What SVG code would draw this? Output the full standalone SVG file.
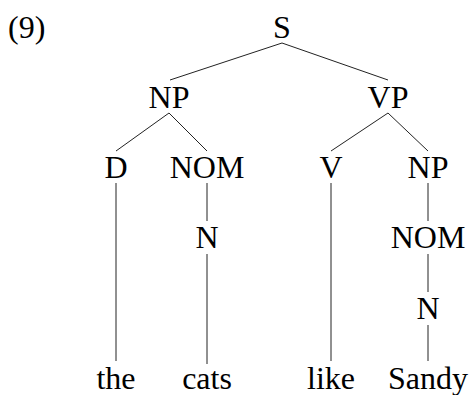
<svg xmlns="http://www.w3.org/2000/svg" width="470" height="395" viewBox="0 0 470 395">
<style>
text{font-family:'Liberation Serif','Times New Roman',serif;font-size:32px;fill:#000;text-anchor:middle}
.c line{stroke:#222;stroke-width:1}
</style>
<rect width="470" height="395" fill="#fff"/>
<text x="8" y="38" style="text-anchor:start">(9)</text>
<g class="c" id="connectors">
<line x1="282" y1="43" x2="170" y2="80"/>
<line x1="282" y1="43" x2="388" y2="80"/>
<line x1="169" y1="113" x2="116" y2="151"/>
<line x1="169" y1="113" x2="207" y2="151"/>
<line x1="388" y1="113" x2="331" y2="151"/>
<line x1="388" y1="113" x2="428" y2="151"/>
<line x1="116" y1="183" x2="116" y2="361"/>
<line x1="207" y1="183" x2="207" y2="221"/>
<line x1="207" y1="254" x2="207" y2="364"/>
<line x1="331" y1="183" x2="331" y2="361"/>
<line x1="428" y1="183" x2="428" y2="221"/>
<line x1="428" y1="254" x2="428" y2="292"/>
<line x1="428" y1="325" x2="428" y2="361"/>
</g>
<g id="S"><text x="282" y="38">S</text></g>
<g id="NP1"><text x="169" y="108">NP</text></g>
<g id="VP"><text x="388" y="108">VP</text></g>
<g id="D"><text x="116" y="178">D</text></g>
<g id="NOM1"><text x="207" y="178">NOM</text></g>
<g id="V"><text x="331" y="178">V</text></g>
<g id="NP2"><text x="428" y="178">NP</text></g>
<g id="N1"><text x="207" y="248">N</text></g>
<g id="NOM2"><text x="428" y="248">NOM</text></g>
<g id="N2"><text x="428" y="319">N</text></g>
<g id="the"><text x="116" y="389">the</text></g>
<g id="cats"><text x="207" y="389">cats</text></g>
<g id="like"><text x="331" y="389">like</text></g>
<g id="Sandy"><text x="428" y="389">Sandy</text></g>
</svg>
